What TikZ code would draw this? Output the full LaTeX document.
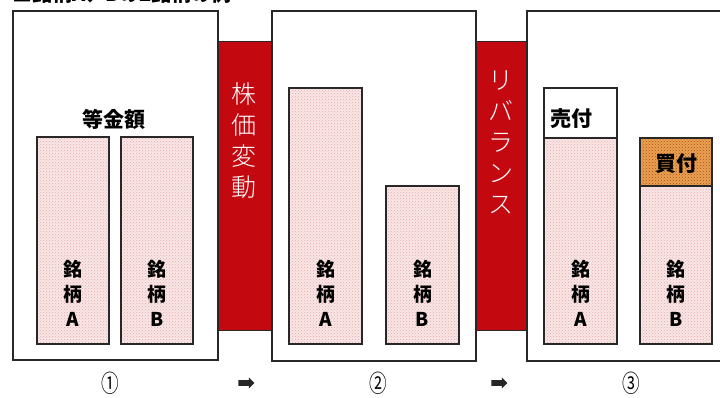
\documentclass[tikz,border=0pt]{standalone}
\usepackage{fontspec}
\newfontfamily\jp{Noto Sans CJK JP}[UprightFont=* Light]
\newfontfamily\jpb{Noto Sans CJK JP}[UprightFont=* Black]
\newfontfamily\jpn{Noto Sans CJK JP}
\usetikzlibrary{patterns,shapes.arrows}
\definecolor{barred}{RGB}{196,8,16}
\definecolor{pinkbg}{RGB}{250,230,230}
\definecolor{pinkdot}{RGB}{225,170,170}
\definecolor{orbg}{RGB}{236,160,80}
\definecolor{ordot}{RGB}{160,80,30}
\definecolor{edge}{RGB}{40,40,40}
\tikzset{
  panel/.style={draw=edge, line width=1.4pt, fill=white, inner sep=0pt, outer sep=0pt, anchor=north west},
  redbar/.style={draw=edge, line width=1pt, fill=barred, inner sep=0pt, outer sep=0pt, anchor=north west},
  stock/.style={draw=edge, line width=1.2pt, preaction={fill=pinkbg}, pattern=crosshatch dots, pattern color=pinkdot, inner sep=0pt, outer sep=0pt, anchor=north west},
  sellbox/.style={draw=edge, line width=1.2pt, fill=white, inner sep=0pt, outer sep=0pt, anchor=north west},
  buybox/.style={draw=edge, line width=1.2pt, preaction={fill=orbg}, pattern=crosshatch dots, pattern color=ordot, inner sep=0pt, outer sep=0pt, anchor=north west},
  lbl/.style={font=\jpb\fontsize{19}{25}\selectfont, align=center, inner sep=0pt},
  head/.style={font=\jpb\fontsize{21}{25}\selectfont, inner sep=0pt},
  vtext/.style={font=\jp\fontsize{25}{31}\selectfont, text=white, align=center, inner sep=0pt},
  num/.style={font=\jpn\fontsize{22}{24}\selectfont, inner sep=0pt, xscale=0.8, yscale=1.1},
  arr/.style={single arrow, fill=black!85, draw=none, inner sep=2.75pt, single arrow head extend=2.75pt, minimum height=16pt, minimum width=11pt, single arrow tip angle=90}
}
\begin{document}
\begin{tikzpicture}[x=1pt,y=-1pt]
\useasboundingbox (0,0) rectangle (720,398);
\clip (0,0) rectangle (720,398);
\fill[white] (0,0) rectangle (720,398);
% cut-off title
\node[font=\jpb\fontsize{20}{22}\selectfont, anchor=base west, inner sep=0pt] (title) at (12,2) {■銘柄A、Bの2銘柄の例};
% panels
\node[panel, minimum width=205pt, minimum height=349pt] (p1) at (13,11) {};
\node[panel, minimum width=204pt, minimum height=350pt] (p2) at (272,11) {};
\node[panel, minimum width=213pt, minimum height=350pt] (p3) at (527,11) {};
% red bars
\node[redbar, minimum width=53pt, minimum height=288pt] (r1) at (218,42) {};
\node[redbar, minimum width=50pt, minimum height=288pt] (r2) at (476,42) {};
\node[vtext] (t1) at (244,141) {株\\価\\変\\動};
\node[vtext] (t2) at (501,142) {リ\\バ\\ラ\\ン\\ス};
% panel 1
\node[head] (eq) at (114,119) {等金額};
\node[stock, minimum width=72pt, minimum height=207pt] (a1) at (37,137) {};
\node[stock, minimum width=72pt, minimum height=207pt] (b1) at (121,137) {};
\node[lbl] (la1) at (73,293) {銘\\柄\\A};
\node[lbl] (lb1) at (157,293) {銘\\柄\\B};
% panel 2
\node[stock, minimum width=73pt, minimum height=256pt] (a2) at (289,88) {};
\node[stock, minimum width=73pt, minimum height=158pt] (b2) at (386,186) {};
\node[lbl] (la2) at (325.5,293) {銘\\柄\\A};
\node[lbl] (lb2) at (422.5,293) {銘\\柄\\B};
% panel 3
\node[sellbox, minimum width=73pt, minimum height=50pt] (s3) at (544,88) {};
\node[stock, minimum width=73pt, minimum height=206pt] (a3) at (544,138) {};
\node[buybox, minimum width=72pt, minimum height=48pt] (u3) at (640,138) {};
\node[stock, minimum width=72pt, minimum height=158pt] (b3) at (640,186) {};
\node[head, anchor=west] (st) at (550,119) {売付};
\node[head] (bt) at (676,164) {買付};
\node[lbl] (la3) at (580.5,293) {銘\\柄\\A};
\node[lbl] (lb3) at (676,293) {銘\\柄\\B};
% bottom labels
\node[num] (n1) at (110,383) {①};
\node[arr] (ar1) at (245,383) {};
\node[num] (n2) at (378,383) {②};
\node[arr] (ar2) at (498,383) {};
\node[num] (n3) at (631,383) {③};
\end{tikzpicture}
\end{document}
